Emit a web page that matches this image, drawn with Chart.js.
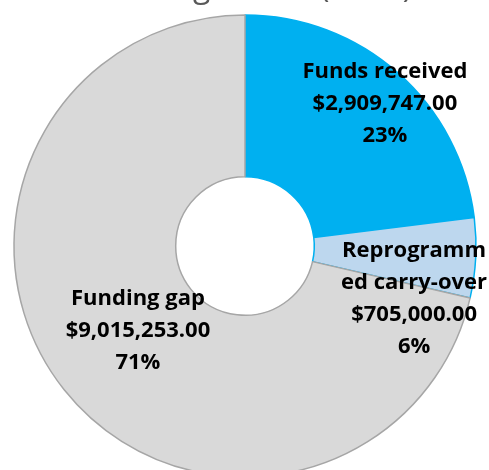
<!DOCTYPE html>
<html>
<head>
<meta charset="utf-8">
<script src="https://cdn.jsdelivr.net/npm/chart.js@4"></script>
<style>
  html, body { margin: 0; padding: 0; overflow: hidden; background: #fff; }
  #wrap { position: relative; width: 489px; height: 492px; }
</style>
</head>
<body>
<div id="wrap"><canvas id="fundingChart"></canvas></div>
<script>
const chartTitle = 'Funding Status (2018)';
const categories = ['Funds received', ['Reprogramm', 'ed carry-over'], 'Funding gap'];
const amounts = [2909747, 705000, 9015253];
const sliceColors = ['#00B0F0', '#BDD7EE', '#D9D9D9'];
const edgeColors = ['#00B0F0', '#00B0F0', '#A6A6A6'];
// where each label sits: [turn past the slice middle, degrees; share of outer radius]
const labelSpots = [[3.1, 0.863], [14.4, 0.767], [0, 0.592]];

const fmtMoney = v => '$' + v.toLocaleString('en-US', { minimumFractionDigits: 2, maximumFractionDigits: 2 });

const cutTitle = {
    id: 'cutTitle',
    afterDraw(chart) {
        const ctx = chart.ctx;
        ctx.save();
        ctx.font = '32px "Open Sans"';
        ctx.fillStyle = '#595959';
        ctx.textAlign = 'center';
        ctx.textBaseline = 'alphabetic';
        ctx.fillText(chartTitle, 251, -3);
        ctx.restore();
    }
};

const sliceLabels = {
    id: 'sliceLabels',
    afterDatasetsDraw(chart) {
        const ctx = chart.ctx;
        const arcs = chart.getDatasetMeta(0).data;
        const total = amounts.reduce((a, b) => a + b, 0);
        ctx.save();
        ctx.font = 'bold 22px "Open Sans"';
        ctx.fillStyle = '#000';
        ctx.textAlign = 'center';
        ctx.textBaseline = 'middle';
        arcs.forEach((arc, i) => {
            const { x, y, startAngle, endAngle, outerRadius } =
                arc.getProps(['x', 'y', 'startAngle', 'endAngle', 'outerRadius'], true);
            const [turn, share] = labelSpots[i];
            const a = (startAngle + endAngle) / 2 + turn * Math.PI / 180;
            const cx = x + Math.cos(a) * outerRadius * share;
            const cy = y + Math.sin(a) * outerRadius * share;
            const lines = [].concat(categories[i], fmtMoney(amounts[i]),
                Math.round(amounts[i] / total * 100) + '%');
            const lh = 32;
            lines.forEach((t, k) => ctx.fillText(t, cx, cy + (k - (lines.length - 1) / 2) * lh));
        });
        ctx.restore();
    }
};

new Chart(document.getElementById('fundingChart'), {
    type: 'doughnut',
    data: {
        labels: categories,
        datasets: [{
            data: amounts,
            backgroundColor: sliceColors,
            borderColor: edgeColors,
            borderWidth: 1.5,
        }]
    },
    options: {
        responsive: true,
        maintainAspectRatio: false,
        devicePixelRatio: 1,
        animation: false,
        radius: 231,
        cutout: '30%',
        layout: { padding: { left: 13, right: 12, top: 14, bottom: 14 } },
        plugins: {
            legend: { display: false },
            tooltip: { enabled: false },
        }
    },
    plugins: [sliceLabels, cutTitle]
});
</script>
</body>
</html>
